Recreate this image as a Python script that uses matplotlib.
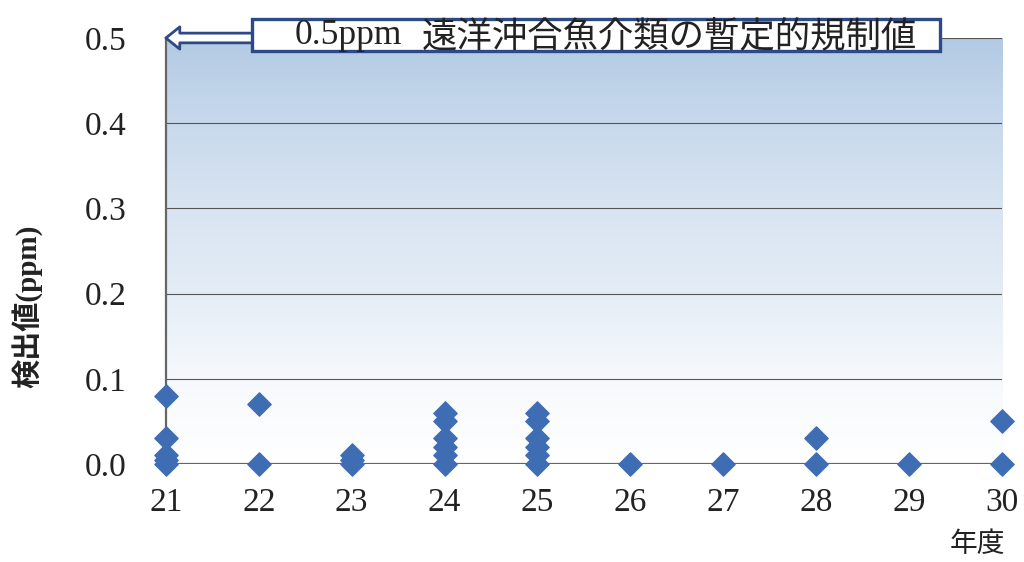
import numpy as np
import matplotlib.pyplot as plt
from matplotlib.colors import LinearSegmentedColormap
from matplotlib.patches import Rectangle

# detected values per fiscal year (ppm)
years = [21, 21, 21, 21, 21,
         22, 22,
         23, 23, 23,
         24, 24, 24, 24, 24, 24,
         25, 25, 25, 25, 25, 25,
         26, 27, 28, 28, 29, 30, 30]
values = [0.08, 0.03, 0.01, 0.005, 0.0,
          0.07, 0.0,
          0.01, 0.005, 0.0,
          0.06, 0.05, 0.03, 0.02, 0.01, 0.0,
          0.06, 0.05, 0.03, 0.02, 0.01, 0.0,
          0.0, 0.0, 0.03, 0.0, 0.0, 0.05, 0.0]
year_ticks = list(range(21, 31))
y_ticks = [0.0, 0.1, 0.2, 0.3, 0.4, 0.5]
limit = 0.5
limit_value_label = '0.5ppm'
limit_text_label = '遠洋沖合魚介類の暫定的規制値'

serif = ['Liberation Serif', 'Noto Sans CJK JP']
gothic = ['Noto Sans CJK JP', 'DejaVu Sans']
navy = '#2c4a86'

fig = plt.figure(figsize=(10.24, 5.62), dpi=100)
ax = fig.add_axes([0.162, 0.1744, 0.8165, 0.758])

# blue-to-white gradient background
cmap = LinearSegmentedColormap.from_list(
    'bg', [(0.0, '#ffffff'), (0.2, '#f6f9fc'), (0.4, '#e4edf6'),
           (0.6, '#d8e4f1'), (0.8, '#c8d9ec'), (1.0, '#b3cae4')])
grad = np.linspace(0, 1, 256).reshape(-1, 1)
ax.imshow(grad, cmap=cmap, aspect='auto', origin='lower',
          extent=[21, 30, 0, limit], zorder=0)

ax.set_xlim(21, 30)
ax.set_ylim(0, 0.5)
ax.set_xticks(year_ticks)
ax.set_yticks(y_ticks)
ax.set_xticklabels([str(y) for y in year_ticks], fontfamily=serif, fontsize=24)
ax.set_yticklabels([f'{v:.1f}' for v in y_ticks], fontfamily=serif, fontsize=24)
ax.tick_params(axis='x', length=0, pad=17, colors='#222222')
ax.tick_params(axis='y', length=0, pad=28, colors='#222222')

for v in y_ticks[1:]:
    ax.axhline(v, color='#555555', lw=0.8, zorder=1)
ax.axhline(0, color='#666666', lw=1.6, zorder=1)

for s in ['top', 'right', 'bottom']:
    ax.spines[s].set_visible(False)
ax.spines['left'].set_color('#666666')
ax.spines['left'].set_linewidth(1.6)

ax.scatter(years, values, marker='D', s=140, color='#3f6db4',
           edgecolors='#3f6db4', zorder=3, clip_on=False)

# regulation limit annotation: hollow arrow + framed label
ax.annotate('', xy=(21.0, limit), xycoords='data',
            xytext=(0.104, 1.0), textcoords='axes fraction',
            arrowprops=dict(arrowstyle='simple,head_width=1.6,head_length=1.0,tail_width=0.7',
                            fc='white', ec=navy, lw=2.0, shrinkA=0, shrinkB=0),
            zorder=4, annotation_clip=False)
ax.add_patch(Rectangle((0.1029, 0.9695), 0.8229, 0.0751, transform=ax.transAxes,
                       fc='white', ec=navy, lw=2.4, zorder=5, clip_on=False))
ax.text(0.1543, 1.0047, limit_value_label, transform=ax.transAxes, fontfamily=serif,
        fontsize=25.5, ha='left', va='center', zorder=6, color='#222222')
ax.text(0.3062, 1.0047, limit_text_label, transform=ax.transAxes, fontfamily=gothic,
        fontsize=25.5, ha='left', va='center', zorder=6, color='#222222')

fig.text(0.027, 0.455, '検出値(ppm)', rotation=90, fontfamily=serif, fontsize=21,
         fontweight='bold', ha='center', va='center', color='#222222')
fig.text(0.955, 0.032, '年度', fontfamily=gothic, fontsize=20,
         ha='center', va='center', color='#222222')

fig.savefig('out.png', dpi=100)
